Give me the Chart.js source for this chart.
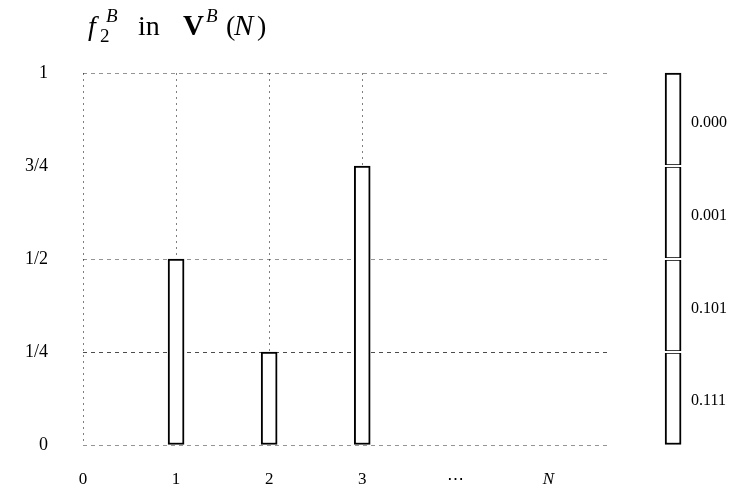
<!DOCTYPE html>
<html>
<head>
<meta charset="utf-8">
<script src="https://cdn.jsdelivr.net/npm/chart.js@4"></script>
<style>
  html, body { margin: 0; padding: 0; background: #fff; }
  canvas { display: block; }
</style>
</head>
<body>
<canvas id="myChart" width="752" height="495"></canvas>
<script>
const ctx = document.getElementById('myChart');

// positions along the bottom axis
const X_LABELS = ['0', '1', '2', '3', '⋯', 'N'];
const Y_TICKS = [0, 0.25, 0.5, 0.75, 1];
const Y_LABELS = ['0', '1/4', '1/2', '3/4', '1'];

// f_2^B value at each position
const BAR_X = [1, 2, 3];
const BAR_VALUES = [0.5, 0.25, 0.75];

// the stacked column on the right, bottom to top
const COLUMN_SEGMENTS = [[0, 0.25], [0.25, 0.5], [0.5, 0.75], [0.75, 1]];
const COLUMN_LABELS = ['0.111', '0.101', '0.001', '0.000'];

const COLUMN_X = 6.34;
const SERIF = "'Liberation Serif', 'DejaVu Serif', serif";
const INK = '#000';

// title: f_2^B in V^B(N), set piece by piece
const TITLE_RUNS = [
  { t: 'f', font: 'italic 28px', x: 88, dy: 0 },
  { t: 'B', font: 'italic 19px', x: 106, dy: -13 },
  { t: '2', font: '19px', x: 100, dy: 7 },
  { t: 'in', font: '28px', x: 138, dy: 0 },
  { t: 'V', font: 'bold 29px', x: 183, dy: 0 },
  { t: 'B', font: 'italic 19px', x: 206, dy: -13 },
  { t: '(', font: '28px', x: 226, dy: 0 },
  { t: 'N', font: 'italic 29px', x: 234, dy: 0 },
  { t: ')', font: '28px', x: 257, dy: 0 }
];

const titlePlugin = {
  id: 'mathTitle',
  afterDraw(chart) {
    const c = chart.ctx;
    c.save();
    c.fillStyle = INK;
    c.textBaseline = 'alphabetic';
    c.textAlign = 'left';
    TITLE_RUNS.forEach(r => {
      c.font = r.font + ' ' + SERIF;
      c.fillText(r.t, r.x, 35 + r.dy);
    });
    c.restore();
  }
};

// white slits between the column segments, plus their labels
const columnPlugin = {
  id: 'columnLabels',
  afterDatasetsDraw(chart) {
    const meta = chart.getDatasetMeta(1);
    const yScale = chart.scales.y;
    const c = chart.ctx;
    c.save();
    meta.data.forEach((el, i) => {
      const half = el.width / 2;
      if (COLUMN_SEGMENTS[i][1] < yScale.max) {
        c.fillStyle = '#fff';
        c.fillRect(el.x - half - 1, Math.round(el.y) - 1, el.width + 2, 2);
      }
      c.fillStyle = INK;
      c.font = '16px ' + SERIF;
      c.textAlign = 'left';
      c.textBaseline = 'middle';
      c.fillText(COLUMN_LABELS[i], el.x + half + 10, (el.y + el.base) / 2 + 3);
    });
    c.restore();
  }
};

const myChart = new Chart(ctx, {
  type: 'bar',
  data: {
    datasets: [
      {
        label: 'f2B',
        data: BAR_X.map((x, i) => ({ x: x, y: BAR_VALUES[i] })),
        backgroundColor: '#fff',
        borderColor: INK,
        borderWidth: 2,
        borderSkipped: false,
        barThickness: 16,
        grouped: false
      },
      {
        label: 'column',
        data: COLUMN_SEGMENTS.map(s => ({ x: COLUMN_X, y: s })),
        backgroundColor: '#fff',
        borderColor: INK,
        borderWidth: 2,
        borderSkipped: false,
        barThickness: 16,
        grouped: false,
        clip: false
      }
    ]
  },
  options: {
    responsive: false,
    animation: false,
    layout: {
      padding: { top: 73, right: 145, bottom: 6, left: 13 }
    },
    plugins: {
      legend: { display: false },
      title: { display: false },
      tooltip: { enabled: false }
    },
    scales: {
      x: {
        type: 'linear',
        min: 0,
        max: 5.63,
        offset: false,
        afterBuildTicks: (scale) => {
          scale.ticks = X_LABELS.map((_, i) => ({ value: i }));
        },
        afterFit: (scale) => { scale.height = 44; },
        border: { display: false, dash: [2, 4] },
        grid: {
          offset: false,
          drawTicks: false,
          lineWidth: 1,
          color: (c) => (c.index <= 3 ? 'rgba(0,0,0,0.5)' : 'transparent')
        },
        ticks: {
          padding: 24,
          autoSkip: false,
          maxRotation: 0,
          color: INK,
          callback: (v, i) => X_LABELS[i],
          font: (c) => ({
            family: SERIF,
            size: 17,
            style: X_LABELS[c.index] === 'N' ? 'italic' : 'normal'
          })
        }
      },
      y: {
        type: 'linear',
        min: 0,
        max: 1,
        afterBuildTicks: (scale) => {
          scale.ticks = Y_TICKS.map(v => ({ value: v }));
        },
        afterFit: (scale) => { scale.width = 70; },
        border: { display: false, dash: [4, 4] },
        grid: {
          drawTicks: false,
          lineWidth: 1,
          color: (c) => {
            const v = c.tick ? c.tick.value : null;
            if (v === 0.75) return 'transparent';
            return v === 0.25 ? 'rgba(0,0,0,0.7)' : 'rgba(0,0,0,0.42)';
          }
        },
        ticks: {
          padding: 35,
          color: INK,
          font: { family: SERIF, size: 18 },
          callback: (v, i) => Y_LABELS[i]
        }
      }
    }
  },
  plugins: [titlePlugin, columnPlugin]
});
</script>
</body>
</html>
